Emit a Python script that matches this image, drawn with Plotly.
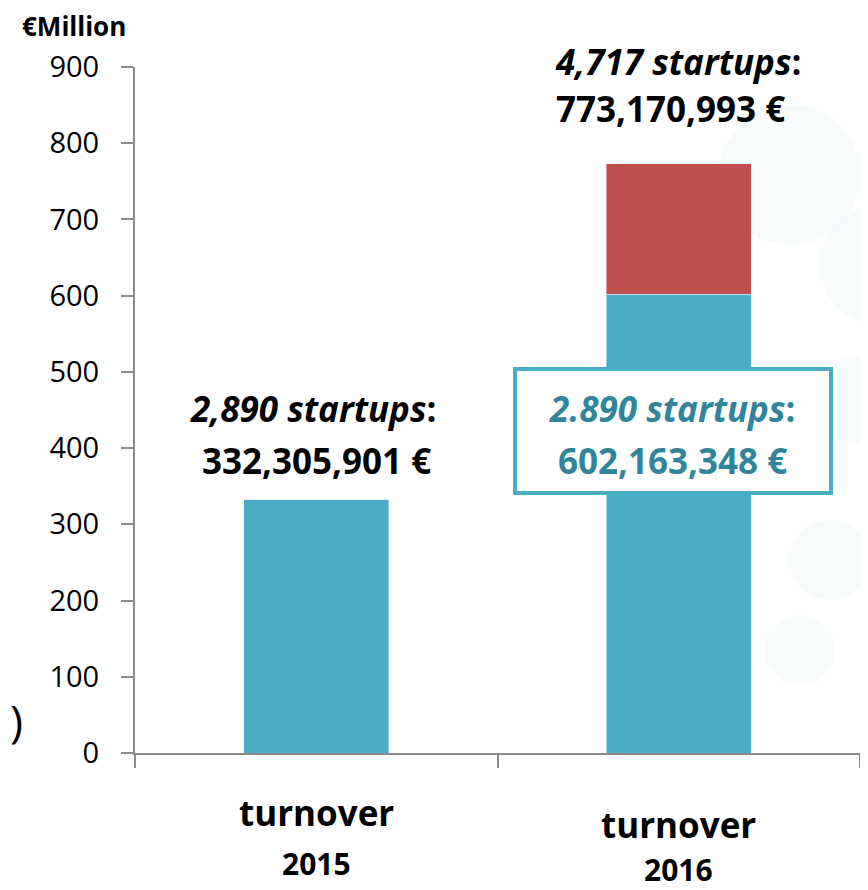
import plotly.graph_objects as go

categories = ["turnover 2015", "turnover 2016"]
base_turnover = [332.305901, 602.163348]   # € million, the 2,890 startups
new_turnover = [0, 170.997645]             # € million, added in 2016 (773.17 - 602.16)
totals = [332.305901, 773.170993]

BLUE = "#4BACC6"
RED = "#C0504D"
TEAL_TXT = "#31849B"
FONT = "Open Sans"
LBL = 35

fig = go.Figure()
fig.add_trace(go.Bar(x=categories, y=base_turnover, marker_color=BLUE, width=0.4))
fig.add_trace(go.Bar(x=categories, y=new_turnover, marker_color=RED, width=0.4))


# window pixel -> paper coords (plot area spans x 135..860, y 67..753 in the window)
def px_to_paper(px, py):
    return (px - 135) / 725, (753 - py) / 686


# faint decorative circles in the background (right side of the slide)
for cx, cy, r in [(790, 175, 70), (880, 265, 60), (860, 400, 45), (830, 560, 40), (800, 650, 35)]:
    x0, y0 = px_to_paper(cx - r, cy + r)
    x1, y1 = px_to_paper(cx + r, cy - r)
    fig.add_shape(type="circle", xref="paper", yref="paper", x0=x0, y0=y0, x1=x1, y1=y1,
                  fillcolor="rgba(215,232,240,0.18)", line_width=0, layer="below")

ann = []
# labels above bars
ann.append(dict(x=categories[0], y=452, text="<b><i>2,890 startups</i>:</b>", xshift=-3,
                font=dict(size=LBL, color="black")))
ann.append(dict(x=categories[0], y=384, text="<b>332,305,901 €</b>",
                font=dict(size=LBL, color="black")))
ann.append(dict(x=categories[1], y=846, text="<b>773,170,993 €</b>", xshift=-8,
                font=dict(size=LBL, color="black")))
# boxed label inside 2016 bar
ann.append(dict(x=categories[1], y=422, text=" ", width=312, height=120, xshift=-6,
                bgcolor="white", bordercolor=BLUE, borderwidth=4, borderpad=0))
ann.append(dict(x=categories[1], y=452, text="<b><i>2.890 startups</i>:</b>", xshift=-6,
                font=dict(size=LBL, color=TEAL_TXT)))
ann.append(dict(x=categories[1], y=384, text="<b>602,163,348 €</b>", xshift=-6,
                font=dict(size=LBL, color=TEAL_TXT)))

for a in ann:
    a.update(xref="x", yref="y", showarrow=False, yanchor="middle")

# top label of 2016 sits above the axis range -> paper reference
ann.append(dict(x=categories[1], y=px_to_paper(0, 62)[1], xref="x", yref="paper",
                showarrow=False, yanchor="middle", text="<b><i>4,717 startups</i>:</b>",
                font=dict(size=LBL, color="black")))

# category labels
for cat, ys, words in [(categories[0], (812, 864), ("turnover", "2015")),
                       (categories[1], (824, 869), ("turnover", "2016"))]:
    for yy, w, sz in zip(ys, words, (35, 30)):
        ann.append(dict(x=cat, y=px_to_paper(0, yy)[1], xref="x", yref="paper",
                        showarrow=False, yanchor="middle", text=f"<b>{w}</b>",
                        font=dict(size=sz, color="black")))

# unit label
ann.append(dict(x=px_to_paper(20, 0)[0], y=px_to_paper(0, 26)[1], xref="paper", yref="paper",
                showarrow=False, xanchor="left", yanchor="middle", text="<b>€Million</b>",
                font=dict(size=26, color="black")))
# stray bracket at the left edge of the slide
ann.append(dict(x=px_to_paper(8, 0)[0], y=px_to_paper(0, 720)[1], xref="paper", yref="paper",
                showarrow=False, xanchor="left", yanchor="middle", text=")",
                font=dict(size=44, color="black")))

fig.update_layout(
    barmode="stack",
    showlegend=False,
    width=860,
    height=882,
    margin=dict(l=127, r=8, t=59, b=137),
    plot_bgcolor="rgba(0,0,0,0)",
    paper_bgcolor="white",
    font=dict(family=FONT, color="black"),
    annotations=ann,
)

fig.update_xaxes(
    type="category",
    range=[-0.5, 1.5],
    showticklabels=False,
    tickson="boundaries",
    ticks="outside",
    ticklen=13,
    tickcolor="#8c8c8c",
    tickwidth=2,
    showline=True,
    linecolor="#8c8c8c",
    linewidth=2,
    showgrid=False,
    zeroline=False,
)
fig.update_yaxes(
    range=[0, 900],
    tickvals=[0, 100, 200, 300, 400, 500, 600, 700, 800, 900],
    ticks="outside",
    ticklen=12,
    tickcolor="#8c8c8c",
    tickwidth=2,
    ticklabelstandoff=16,
    tickfont=dict(size=29, color="black"),
    showline=True,
    linecolor="#8c8c8c",
    linewidth=2,
    showgrid=False,
    zeroline=False,
)

fig.write_html("out.html")
